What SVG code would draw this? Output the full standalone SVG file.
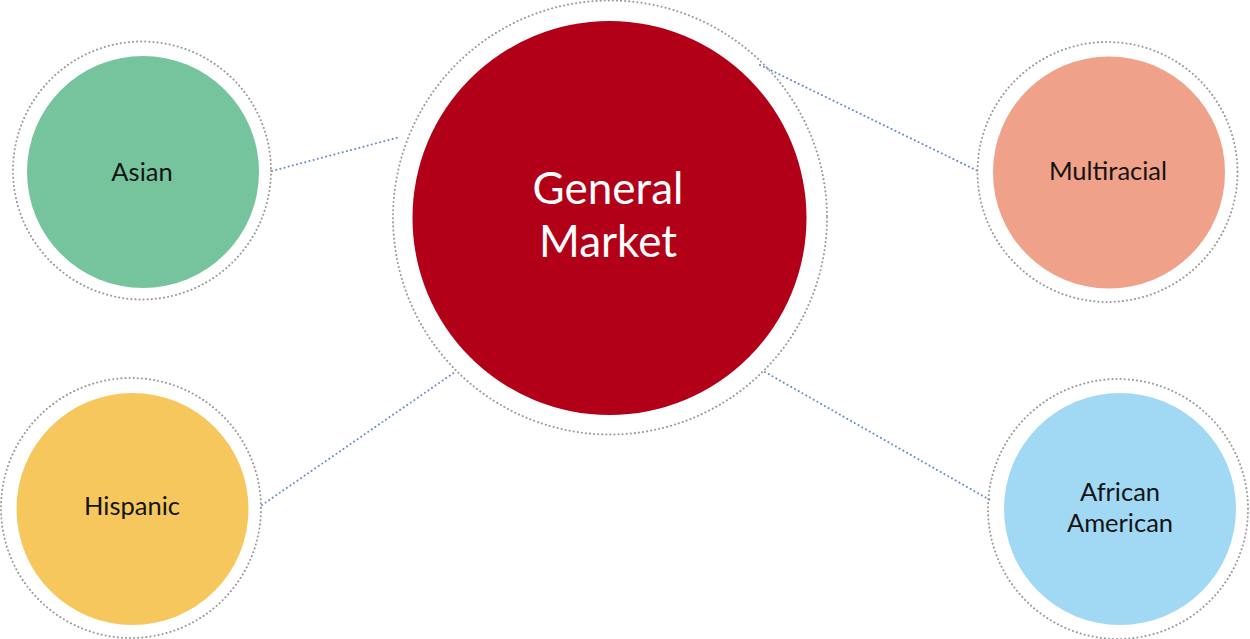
<svg xmlns="http://www.w3.org/2000/svg" width="1250" height="639" viewBox="0 0 1250 639">
  <style>
    .ring { fill: none; stroke: #9a9a9a; stroke-width: 2; stroke-dasharray: 0.1 4; stroke-linecap: round; }
    .link { fill: none; stroke: #6a8cc8; stroke-width: 2; stroke-dasharray: 0.1 4.2; stroke-linecap: round; }
    .lbl { font-family: Lato, "Open Sans", sans-serif; font-size: 25.5px; fill: #141414; text-anchor: middle; }
    .big { font-family: Lato, "Open Sans", sans-serif; font-size: 44px; fill: #ffffff; text-anchor: middle; }
  </style>
  <rect width="1250" height="639" fill="#ffffff"/>
  <g id="connectors">
    <line class="link" x1="272" y1="171" x2="400" y2="137"/>
    <line class="link" x1="262" y1="505" x2="455" y2="372"/>
    <line class="link" x1="760" y1="65" x2="980" y2="172"/>
    <line class="link" x1="765" y1="372" x2="990" y2="500"/>
  </g>
  <g id="general-market">
    <circle class="ring" cx="610" cy="217.5" r="217"/>
    <circle cx="609.5" cy="218" r="197" fill="#b20019"/>
    <text class="big" x="608" y="203.5">General</text>
    <text class="big" x="608" y="256.5">Market</text>
  </g>
  <g id="asian">
    <circle class="ring" cx="142" cy="170.5" r="129"/>
    <circle cx="143" cy="172" r="116" fill="#76c49d"/>
    <text class="lbl" x="142" y="181">Asian</text>
  </g>
  <g id="hispanic">
    <circle class="ring" cx="131" cy="508" r="130"/>
    <circle cx="132.5" cy="509" r="116" fill="#f6c75d"/>
    <text class="lbl" x="132" y="515">Hispanic</text>
  </g>
  <g id="multiracial">
    <circle class="ring" cx="1107.5" cy="172" r="130"/>
    <circle cx="1109" cy="172.5" r="116" fill="#f0a189"/>
    <text class="lbl" x="1108" y="180">Multiracial</text>
  </g>
  <g id="african-american">
    <circle class="ring" cx="1118" cy="509" r="130"/>
    <circle cx="1120" cy="509" r="116" fill="#a1d8f3"/>
    <text class="lbl" x="1120" y="500.5">African</text>
    <text class="lbl" x="1120" y="531.5">American</text>
  </g>
</svg>
